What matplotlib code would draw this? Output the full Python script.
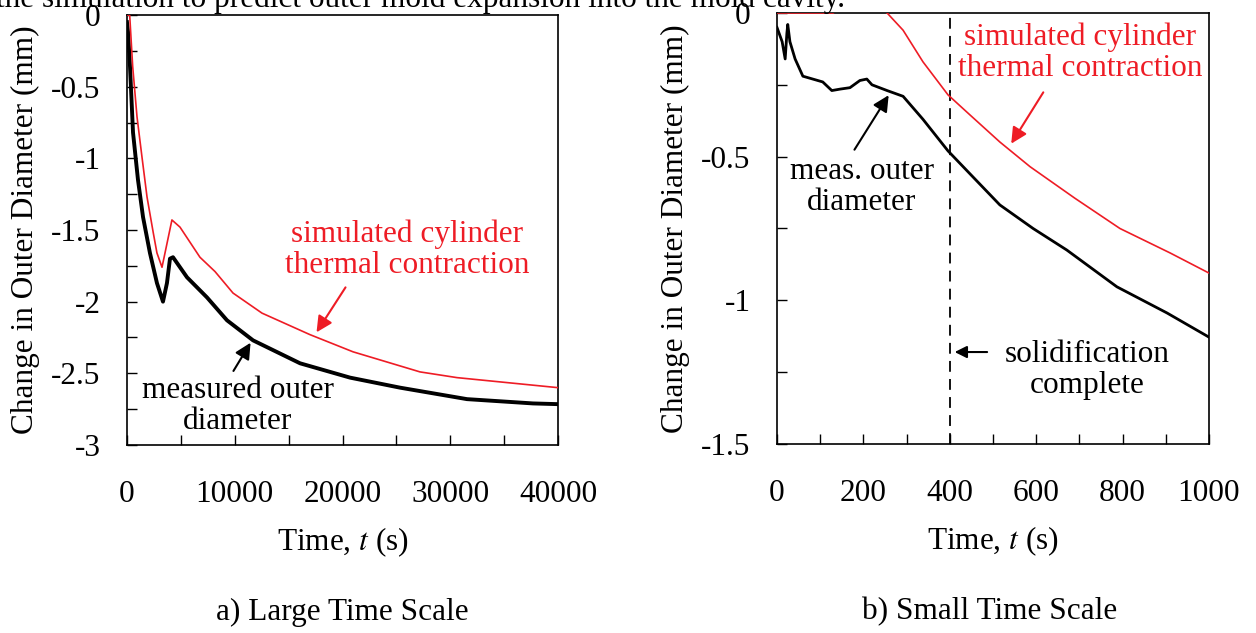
import numpy as np
import matplotlib.pyplot as plt
from matplotlib.ticker import MultipleLocator

plt.rcParams['font.family'] = ['Liberation Serif', 'DejaVu Serif']
plt.rcParams['font.size'] = 22.5
plt.rcParams['mathtext.fontset'] = 'stix'

# a) large time scale
t_meas_a = [0, 100, 280, 560, 1020, 1490, 2130, 2780, 3340, 3710, 3990, 4270, 5570, 7420,
            9280, 11700, 16060, 20700, 25340, 31550, 37680, 40000]
d_meas_a = [-0.05, -0.12, -0.36, -0.82, -1.15, -1.41, -1.66, -1.87, -2.0, -1.87, -1.70, -1.69,
            -1.83, -1.97, -2.13, -2.27, -2.43, -2.53, -2.60, -2.68, -2.71, -2.715]
t_sim_a = [0, 250, 530, 930, 1390, 1860, 2440, 2780, 3250, 4170, 4920, 6770, 8170, 9840,
           12530, 16980, 20980, 27190, 30630, 40000]
d_sim_a = [0, 0, -0.36, -0.71, -0.99, -1.27, -1.52, -1.66, -1.76, -1.43, -1.48, -1.69, -1.79,
           -1.94, -2.08, -2.23, -2.35, -2.49, -2.53, -2.60]

# b) small time scale
t_meas_b = [0, 12, 19, 23, 25, 30, 42, 60, 83, 106, 127, 146, 169, 192, 208, 220, 255, 292,
            338, 396, 447, 516, 593, 671, 787, 903, 1000]
d_meas_b = [-0.05, -0.10, -0.16, -0.07, -0.04, -0.10, -0.16, -0.22, -0.23, -0.24, -0.27, -0.265,
            -0.26, -0.235, -0.23, -0.25, -0.27, -0.29, -0.37, -0.48, -0.56, -0.668, -0.75,
            -0.825, -0.953, -1.044, -1.128]
t_sim_b = [0, 130, 190, 255, 292, 338, 396, 447, 516, 586, 690, 794, 910, 1000]
d_sim_b = [0, 0, 0.06, 0, -0.06, -0.17, -0.285, -0.355, -0.449, -0.535, -0.645, -0.75, -0.835, -0.905]

t_solid = 400

fig = plt.figure(figsize=(12.56, 6.33), dpi=100)
ax1 = fig.add_axes([0.1011, 0.2970, 0.3432, 0.6793])
ax2 = fig.add_axes([0.6186, 0.2986, 0.3439, 0.6809])


def style(ax):
	ax.tick_params(which='both', direction='in', top=False, right=False, length=7, width=1)
	ax.tick_params(axis='x', which='both', pad=25)
	ax.tick_params(axis='y', which='both', pad=19)
	for s in ax.spines.values():
		s.set_linewidth(1.2)
	ax.set_ylabel('Change in Outer Diameter (mm)')
	ax.set_xlabel(r'Time, $t$ (s)', labelpad=12)
	ax.yaxis.set_label_coords(-0.202, 0.5)


ax1.plot(t_meas_a, d_meas_a, color='black', lw=2.8)
ax1.plot(t_sim_a, d_sim_a, color='#ee1c25', lw=1.2, zorder=3)
ax1.set_xlim(0, 40000)
ax1.set_ylim(-3, 0)
ax1.xaxis.set_minor_locator(MultipleLocator(5000))
ax1.yaxis.set_minor_locator(MultipleLocator(0.25))
ax1.set_yticks([0, -0.5, -1, -1.5, -2, -2.5, -3])
ax1.set_yticklabels(['0', '-0.5', '-1', '-1.5', '-2', '-2.5', '-3'])
ax1.set_xticks([0, 10000, 20000, 30000, 40000])
style(ax1)

ax1.annotate('', xy=(17450, -2.23), xytext=(20418, -1.884),
             arrowprops=dict(arrowstyle='-|>', color='#ee1c25', lw=1.5, mutation_scale=24))
ax1.text(25990, -1.64, 'simulated cylinder\nthermal contraction', color='#ee1c25',
         ha='center', va='center', linespacing=1.1)
ax1.annotate('', xy=(11600, -2.27), xytext=(9745, -2.50),
             arrowprops=dict(arrowstyle='-|>', color='black', lw=1.5, mutation_scale=24))
ax1.text(10300, -2.73, 'measured outer\ndiameter', color='black',
         ha='center', va='center', linespacing=1.1)

ax2.plot(t_meas_b, d_meas_b, color='black', lw=2.0)
ax2.plot(t_sim_b, d_sim_b, color='#ee1c25', lw=1.2, zorder=3)
ax2.axvline(t_solid, color='black', lw=1.3, ls=(0, (6, 4)))
ax2.set_xlim(0, 1000)
ax2.set_ylim(-1.5, 0)
ax2.xaxis.set_major_locator(MultipleLocator(200))
ax2.xaxis.set_minor_locator(MultipleLocator(100))
ax2.yaxis.set_minor_locator(MultipleLocator(0.25))
ax2.set_yticks([0, -0.5, -1, -1.5])
ax2.set_yticklabels(['0', '-0.5', '-1', '-1.5'])
style(ax2)

ax2.annotate('', xy=(539, -0.463), xytext=(620, -0.268),
             arrowprops=dict(arrowstyle='-|>', color='#ee1c25', lw=1.5, mutation_scale=24))
ax2.text(701, -0.139, 'simulated cylinder\nthermal contraction', color='#ee1c25',
         ha='center', va='center', linespacing=1.1)
ax2.annotate('', xy=(262, -0.278), xytext=(176, -0.484),
             arrowprops=dict(arrowstyle='-|>', color='black', lw=1.5, mutation_scale=24))
ax2.text(197, -0.606, 'meas. outer\ndiameter', color='black',
         ha='center', va='center', linespacing=1.1)
ax2.annotate('', xy=(405, -1.18), xytext=(493, -1.18),
             arrowprops=dict(arrowstyle='-|>', color='black', lw=1.5, mutation_scale=18))
ax2.text(718, -1.243, 'solidification\ncomplete', color='black',
         ha='center', va='center', linespacing=1.1)

fig.text(0.2723, 1 - 612 / 633, 'a) Large Time Scale', ha='center', va='center')
fig.text(0.7882, 1 - 612 / 633, 'b) Small Time Scale', ha='center', va='center')
fig.text(-0.003, 1 - 7 / 633, 'the simulation to predict outer mold expansion into the mold cavity.',
         ha='left', va='baseline')

fig.savefig('out.png', dpi=100)
